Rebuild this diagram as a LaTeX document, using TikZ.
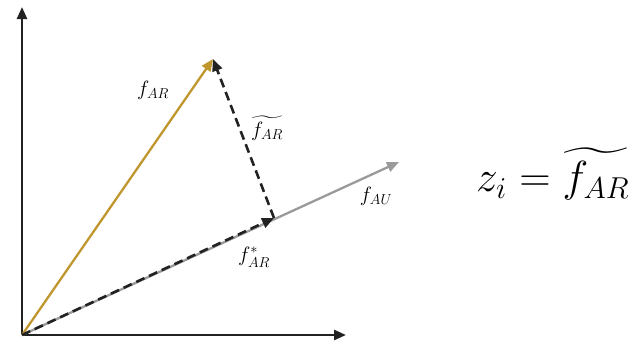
\documentclass[tikz,border=0pt]{standalone}
\usepackage{amsmath}
\usepackage{graphicx}
\usepackage{tikz}
\usetikzlibrary{positioning, arrows.meta, calc}
\definecolor{gold}{HTML}{C0962F}
\definecolor{steel}{HTML}{9A9A9A}
\definecolor{ink}{HTML}{222222}

\begin{document}
\begin{tikzpicture}[x=1pt, y=-1pt,
  axis/.style={ink, line width=2.6pt, -{Triangle[length=12pt, width=10pt]}},
  vec/.style={line width=2.3pt, -{Triangle[length=12pt, width=10pt]}},
  proj/.style={ink, line width=2.6pt, dash pattern=on 9pt off 5pt,
               -{Triangle[length=12pt, width=10pt]}},
  lbl/.style={font=\fontsize{20}{24}\selectfont}]
  \useasboundingbox (0,0) rectangle (641,341);
  % points
  \coordinate (o) at (22,335);
  \coordinate (ytop) at (22,7);
  \coordinate (xend) at (346,335);
  \coordinate (ar) at (213,59);
  \coordinate (au) at (399,162);
  \coordinate (foot) at (274,218);
  % axes
  \draw[axis] (o) -- (ytop);
  \draw[axis] (o) -- (xend);
  % vectors
  \draw[vec, gold] (o) -- (ar);
  \draw[vec, steel] (o) -- (au);
  \draw[proj] (o) -- (foot);
  \draw[proj] (foot) -- (ar);
  % labels
  \node[lbl] (lar) at (153,90) {$f_{AR}$};
  \node[lbl] (ltil) at (267,128) {$\widetilde{f_{AR}}$};
  \node[lbl] (lau) at (376,196) {$f_{AU}$};
  \node[lbl] (lstar) at (254,257) {$f^{*}_{AR}$};
  \node[lbl, anchor=west, inner sep=0pt] (eq) at (476,174)
    {\scalebox{2.1}{$z_i = \widetilde{f_{AR}}$}};
\end{tikzpicture}
\end{document}
